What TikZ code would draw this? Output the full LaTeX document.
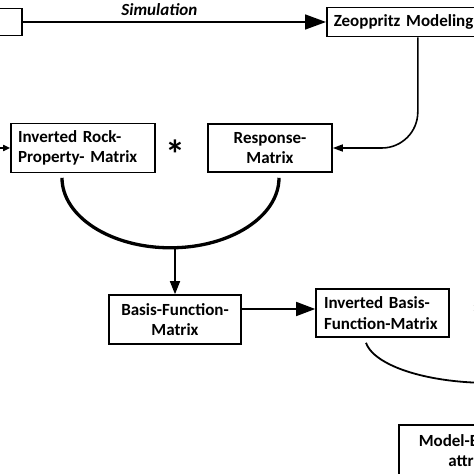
\documentclass[tikz,border=0pt]{standalone}
\usepackage{fontspec}
\setmainfont{Carlito}
\usetikzlibrary{arrows.meta}

\begin{document}
\begin{tikzpicture}[x=1pt, y=1pt,
  font=\fontsize{17}{20.5}\selectfont\bfseries,
  box/.style={draw, line width=1.6pt, inner sep=0pt, minimum height=48pt},
  flow/.style={line width=1.6pt},
  times/.style={font=\fontsize{40}{40}\selectfont\bfseries, inner sep=0pt}]
  \path[use as bounding box, clip] (0,0) rectangle (474,474);
  \node[box, minimum height=27pt, minimum width=60pt, anchor=east] (source) at (23,452) {};
  \node[box, minimum height=29pt, text width=168pt, inner xsep=7pt, align=left, anchor=west] (zeo) at (326,452) {Zeoppritz Modeling};
  \node[box, minimum height=49pt, text width=130pt, inner xsep=7pt, align=left] (invrock) at (83,326) {Inverted Rock-\\Property- Matrix};
  \node[times] (star1) at (175,320) {*};
  \node[box, minimum width=124pt, align=center] (resp) at (270,326) {Response-\\Matrix};
  \node[box, minimum width=132pt, minimum height=49pt, align=center] (basis) at (175,154.5) {Basis-Function-\\Matrix};
  \node[box, text width=117pt, inner xsep=8pt, align=left] (invbasis) at (382.5,161) {Inverted Basis-\\Function-Matrix};
  \node[times] (star2) at (480,158) {*};
  \node[box, minimum height=52pt, inner xsep=20pt, align=center, anchor=north west] (model) at (398,50) {Model-Based AVO\\attributes};
  \coordinate (inflow) at ([xshift=-15pt]invrock.west);
  \coordinate (bfout) at ([yshift=10.5pt]basis.east);
  \path[flow]
  (source) edge[-{Triangle[length=21pt,width=15pt]}] node[above, pos=0.45, yshift=2pt, font=\fontsize{17}{20}\selectfont\bfseries\itshape] {Simulation} (zeo)
  (inflow) edge[-{Triangle[length=7pt,width=6pt]}] (invrock)
  (bfout) edge[-{Triangle[length=19pt,width=14pt]}] (bfout -| invbasis.west)
  ;
  \draw[flow, -{Triangle[length=10pt,width=7pt]}, rounded corners=36pt] (zeo.south) |- (resp);
  \draw[line width=3.3pt] ([xshift=-21pt,yshift=-4.5pt]invrock.south) arc[start angle=180, end angle=270, x radius=108.5pt, y radius=70pt] coordinate (prodbot) arc[start angle=270, end angle=360, x radius=108.5pt, y radius=70pt];
  \draw[flow, -{Triangle[length=13pt,width=10pt]}] (prodbot -| basis.north) -- (basis.north);
  \draw[line width=1.8pt] ([xshift=-16.5pt,yshift=-5pt]invbasis.south) arc[start angle=187.3, end angle=300, x radius=125pt, y radius=46pt];
\end{tikzpicture}
\end{document}
